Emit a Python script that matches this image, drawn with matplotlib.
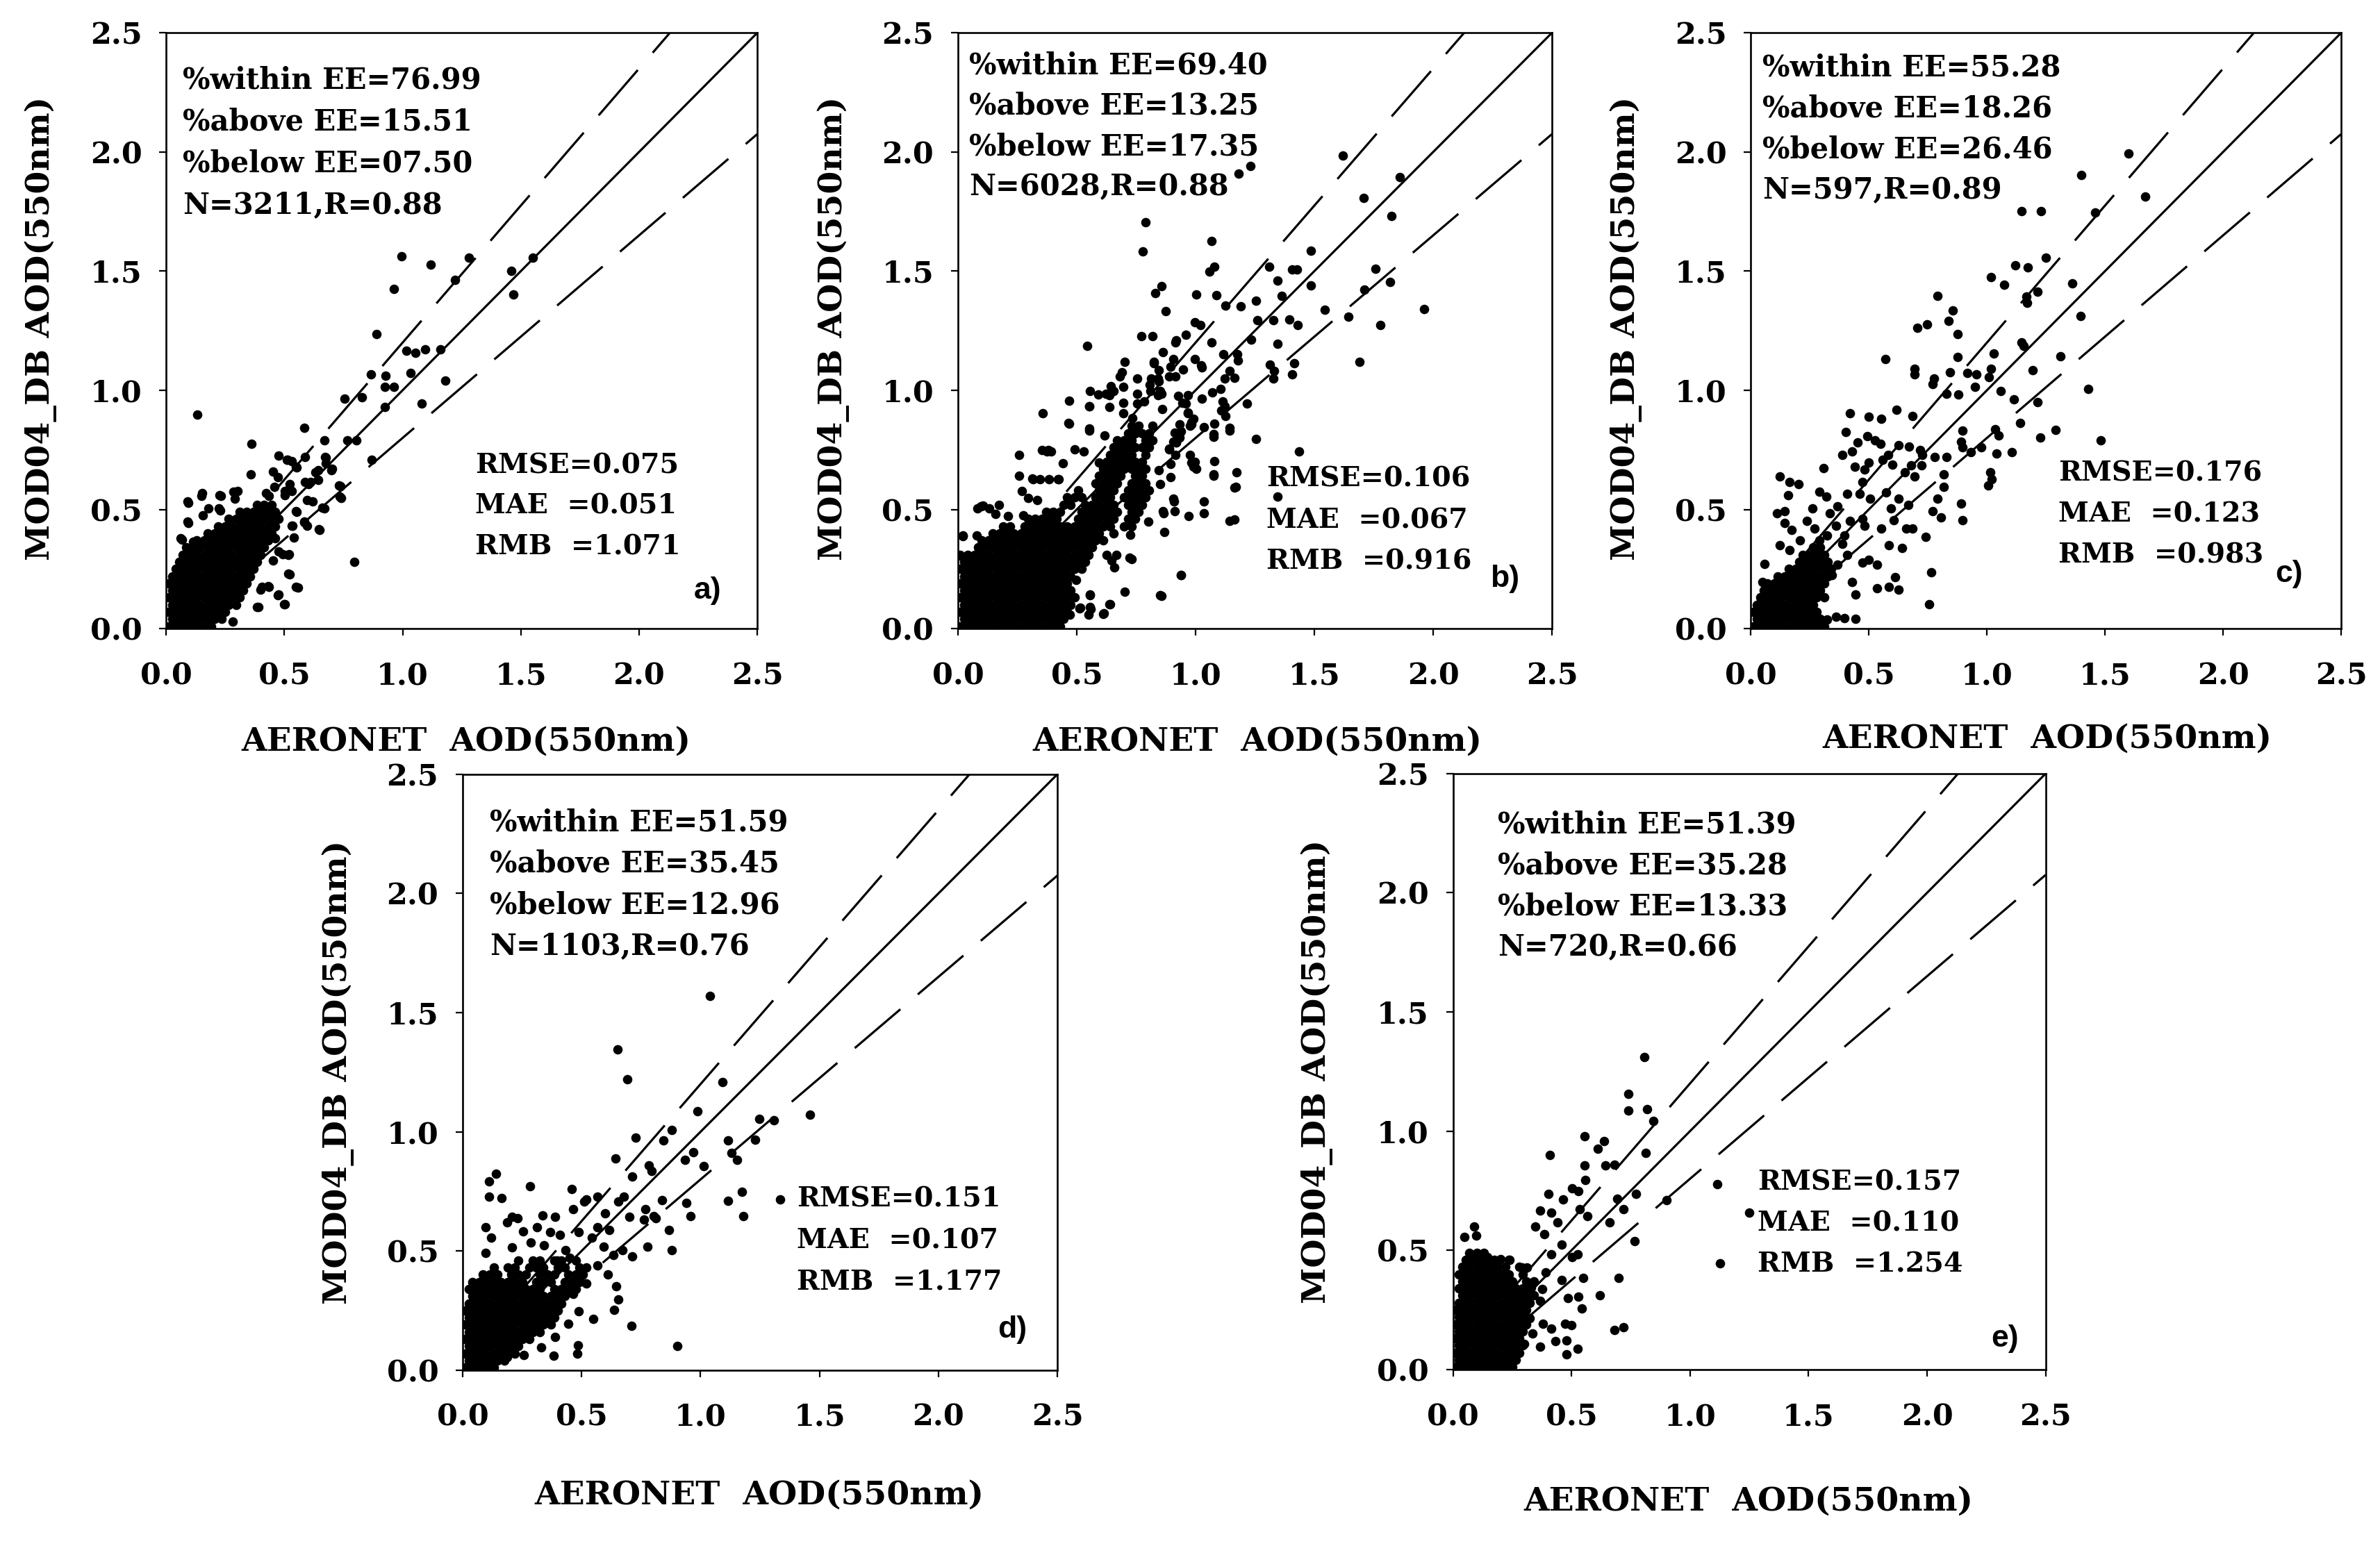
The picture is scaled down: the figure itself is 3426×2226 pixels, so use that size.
import matplotlib
matplotlib.use("Agg")
import matplotlib.pyplot as plt

# ---------------- data ----------------
tick_vals = [0.0, 0.5, 1.0, 1.5, 2.0, 2.5]
tick_labels = ["0.0", "0.5", "1.0", "1.5", "2.0", "2.5"]
EE_ABS, EE_REL = 0.05, 0.15
x_label = "AERONET  AOD(550nm)"
y_label = "MOD04_DB AOD(550nm)"

# dense cores: (y, [x values])
a_blob = [
    (0.01, [.01, .04, .07, .10, .13, .16, .19]),
    (0.04, [.025, .055, .085, .115, .145, .175, .205, .235]),
    (0.07, [.01, .04, .07, .10, .13, .16, .19, .22, .25]),
    (0.10, [.025, .055, .085, .115, .145, .175, .205, .235, .265, .295]),
    (0.13, [.01, .04, .07, .10, .13, .16, .19, .22, .25, .28, .31]),
    (0.16, [.025, .055, .085, .115, .145, .175, .205, .235, .265, .295, .325]),
    (0.19, [.01, .04, .07, .10, .13, .16, .19, .22, .25, .28, .31, .34]),
    (0.22, [.025, .055, .085, .115, .145, .175, .205, .235, .265, .295, .325, .355]),
    (0.25, [.04, .07, .10, .13, .16, .19, .22, .25, .28, .31, .34, .37]),
    (0.28, [.055, .085, .115, .145, .175, .205, .235, .265, .295, .325, .355, .385]),
    (0.31, [.07, .10, .13, .16, .19, .22, .25, .28, .31, .34, .37, .40]),
    (0.34, [.085, .115, .145, .175, .205, .235, .265, .295, .325, .355, .385, .415]),
    (0.37, [.13, .16, .19, .22, .25, .28, .31, .34, .37, .40, .43]),
    (0.40, [.175, .205, .235, .265, .295, .325, .355, .385, .415, .445]),
    (0.43, [.22, .25, .28, .31, .34, .37, .40, .43, .46]),
    (0.46, [.265, .295, .325, .355, .385, .415, .445, .475]),
    (0.49, [.31, .34, .37, .40, .43, .46]),
    (0.52, [.385, .415, .445]),
]
a_pts = [
    (0.995, 1.561), (1.12, 1.526), (1.279, 1.555), (1.55, 1.555), (1.46, 1.5), (1.468, 1.403),
    (1.223, 1.463), (0.963, 1.424), (0.89, 1.237), (1.017, 1.167), (1.055, 1.157), (1.094, 1.173),
    (1.159, 1.173), (1.18, 1.04), (1.034, 1.072), (0.927, 1.062), (0.924, 1.013), (0.963, 1.013),
    (0.924, 0.93), (1.081, 0.945), (0.866, 1.068), (0.755, 0.966), (0.828, 0.97), (0.868, 0.707),
    (0.795, 0.279), (0.131, 0.898), (0.583, 0.842), (0.669, 0.789), (0.765, 0.791), (0.804, 0.791),
    (0.673, 0.719), (0.701, 0.67), (0.361, 0.774), (0.475, 0.725), (0.514, 0.707), (0.55, 0.678),
    (0.587, 0.719), (0.632, 0.657), (0.643, 0.624), (0.602, 0.606), (0.731, 0.602), (0.735, 0.553),
    (0.595, 0.538), (0.548, 0.493), (0.66, 0.507), (0.645, 0.417), (0.583, 0.448), (0.535, 0.431),
    (0.501, 0.559), (0.458, 0.596), (0.357, 0.647), (0.475, 0.323), (0.518, 0.308), (0.55, 0.175),
    (0.518, 0.23), (0.475, 0.144), (0.499, 0.103), (0.432, 0.179), (0.398, 0.164), (0.383, 0.09),
    (0.282, 0.029), (0.46, 0.38), (0.153, 0.569), (0.092, 0.534), (0.09, 0.448), (0.062, 0.378),
    (0.226, 0.561), (0.284, 0.575), (0.29, 0.544), (0.228, 0.497), (0.51, 0.709), (0.531, 0.704),
    (0.553, 0.675), (0.676, 0.718), (0.676, 0.694), (0.644, 0.665), (0.698, 0.665), (0.588, 0.616),
    (0.61, 0.616), (0.453, 0.66), (0.472, 0.636), (0.523, 0.607), (0.531, 0.578), (0.502, 0.578),
    (0.619, 0.534), (0.551, 0.49), (0.585, 0.447), (0.595, 0.432), (0.649, 0.413), (0.737, 0.597),
    (0.741, 0.549), (0.668, 0.505), (0.531, 0.432), (0.541, 0.383), (0.492, 0.311), (0.521, 0.311),
    (0.453, 0.286), (0.523, 0.228), (0.559, 0.172), (0.473, 0.141), (0.502, 0.102), (0.404, 0.175),
    (0.433, 0.175), (0.389, 0.092), (0.15, 0.558), (0.233, 0.556), (0.301, 0.578), (0.179, 0.505),
    (0.223, 0.505), (0.093, 0.529), (0.093, 0.444), (0.154, 0.476), (0.067, 0.374), (0.115, 0.364),
    (0.424, 0.568), (0.433, 0.558),
]

b_blob = [
    (0.01, [.01, .04, .07, .10, .13, .16, .19, .22, .25, .28, .31, .34, .37, .40, .43]),
    (0.04, [.025, .055, .085, .115, .145, .175, .205, .235, .265, .295, .325, .355, .385, .415, .445]),
    (0.07, [.01, .04, .07, .10, .13, .16, .19, .22, .25, .28, .31, .34, .37, .40, .43, .46]),
    (0.10, [.025, .055, .085, .115, .145, .175, .205, .235, .265, .295, .325, .355, .385, .415, .445, .475]),
    (0.13, [.01, .04, .07, .10, .13, .16, .19, .22, .25, .28, .31, .34, .37, .40, .43, .46, .49]),
    (0.16, [.025, .055, .085, .115, .145, .175, .205, .235, .265, .295, .325, .355, .385, .415, .445, .475]),
    (0.19, [.01, .04, .07, .10, .13, .16, .19, .22, .25, .28, .31, .34, .37, .40, .43, .46]),
    (0.22, [.025, .055, .085, .115, .145, .175, .205, .235, .265, .295, .325, .355, .385, .415, .445, .475]),
    (0.25, [.01, .04, .07, .10, .13, .16, .19, .22, .25, .28, .31, .34, .37, .40, .43, .46, .49, .52]),
    (0.28, [.025, .055, .085, .115, .145, .175, .205, .235, .265, .295, .325, .355, .385, .415, .445, .475, .505, .535]),
    (0.31, [.01, .04, .07, .10, .13, .16, .19, .22, .25, .28, .31, .34, .37, .40, .43, .46, .49, .52, .55]),
    (0.34, [.085, .115, .145, .175, .205, .235, .265, .295, .325, .355, .385, .415, .445, .475, .505, .535, .565]),
    (0.37, [.10, .13, .16, .19, .22, .25, .28, .31, .34, .37, .40, .43, .46, .49, .52, .55, .58, .61]),
    (0.40, [.145, .175, .205, .235, .265, .295, .325, .355, .385, .415, .445, .475, .505, .535, .565, .595, .655]),
    (0.43, [.19, .22, .28, .31, .34, .37, .40, .43, .46, .49, .52, .55, .58, .61, .64, .70, .73]),
    (0.46, [.295, .325, .355, .385, .415, .505, .535, .565, .595, .625, .655, .715, .745]),
    (0.49, [.37, .40, .43, .52, .55, .58, .61, .64, .67, .73, .76]),
    (0.52, [.445, .475, .535, .565, .595, .625, .655, .715, .745, .775]),
    (0.55, [.46, .49, .52, .58, .61, .64, .70, .73, .76, .79]),
    (0.58, [.505, .595, .625, .655, .715, .745, .775, .805]),
    (0.61, [.58, .61, .64, .67, .73, .76, .79]),
    (0.64, [.595, .625, .655, .685, .745, .775]),
    (0.67, [.61, .64, .67, .70, .73, .76, .79]),
    (0.70, [.625, .655, .685, .715, .745, .775]),
    (0.73, [.64, .67, .70, .73, .79]),
    (0.76, [.655, .685, .715, .745, .775, .805]),
    (0.79, [.67, .70, .73, .79, .82]),
    (0.82, [.715, .745, .775, .805]),
    (0.85, [.73, .76, .82]),
]
b_pts = [
    (1.62, 1.986), (1.86, 1.894), (1.182, 1.91), (1.23, 1.941), (1.706, 1.808), (1.824, 1.73),
    (0.788, 1.705), (0.777, 1.582), (1.067, 1.627), (1.079, 1.518), (1.058, 1.498), (1.309, 1.518),
    (1.406, 1.506), (1.427, 1.506), (1.485, 1.586), (1.758, 1.51), (1.71, 1.422), (1.818, 1.454),
    (0.856, 1.438), (0.83, 1.407), (1.002, 1.403), (1.088, 1.399), (1.127, 1.356), (1.191, 1.352),
    (1.253, 1.376), (1.345, 1.459), (1.543, 1.339), (1.642, 1.309), (1.779, 1.274), (1.961, 1.341),
    (1.689, 1.12), (1.431, 1.274), (1.395, 1.298), (1.328, 1.294), (1.26, 1.294), (1.363, 1.397),
    (0.543, 1.187), (0.702, 1.12), (0.773, 1.228), (0.82, 1.228), (0.862, 1.161), (0.916, 1.202),
    (0.959, 1.233), (0.998, 1.284), (1.019, 1.274), (1.067, 1.202), (1.116, 1.15), (1.174, 1.15),
    (1.234, 1.212), (1.313, 1.109), (1.345, 1.196), (1.406, 1.068), (1.414, 1.113), (1.328, 1.048),
    (1.217, 0.945), (1.255, 0.795), (1.436, 0.744), (1.144, 0.842), (1.127, 0.892), (1.165, 0.458),
    (1.17, 0.596), (1.034, 0.483), (1.034, 0.534), (1.077, 0.647), (1.345, 0.555), (0.938, 0.226),
    (0.852, 0.14), (0.358, 0.904), (0.68, 1.058), (0.622, 0.986), (0.637, 0.929), (0.734, 0.883),
    (0.809, 0.996), (0.852, 0.996), (0.845, 1.037), (0.916, 1.058), (0.927, 0.976), (0.959, 0.945),
    (0.981, 0.867), (1.071, 0.99), (1.024, 1.105), (1.105, 1.007), (1.165, 1.052), (0.981, 0.698),
    (0.991, 0.678), (0.916, 0.729), (0.933, 0.801), (0.912, 0.822), (1.034, 0.846), (1.077, 0.816),
    (0.863, 0.493), (0.912, 0.493), (0.97, 0.472), (0.906, 0.544), (0.723, 0.298), (0.702, 0.154),
    (0.637, 0.103), (0.612, 0.062), (0.556, 0.144), (0.558, 0.082), (0.513, 0.086), (0.47, 0.058),
    (0.498, 0.205), (0.627, 0.308), (0.659, 0.257), (0.573, 0.38), (0.466, 0.863), (0.552, 0.832),
    (0.594, 0.698), (0.616, 0.811), (0.079, 0.39), (0.02, 0.39), (0.097, 0.514), (0.258, 0.729),
    (0.354, 0.75), (0.38, 0.75), (0.423, 0.627), (0.315, 0.627), (0.133, 0.503), (0.468, 0.859),
    (0.554, 0.932), (0.638, 0.978), (0.695, 0.947), (0.753, 0.985), (0.856, 0.985), (1.026, 0.964),
    (1.124, 0.932), (1.143, 0.83), (1.075, 0.806), (1.077, 0.641), (1.143, 0.453), (1.163, 0.592),
    (0.909, 0.534), (0.865, 0.485), (0.868, 0.405), (0.939, 0.225), (0.856, 0.136), (0.732, 0.293),
    (0.666, 0.308), (0.646, 0.286), (0.557, 0.141), (0.641, 0.102), (0.613, 0.063), (0.549, 0.058),
    (0.515, 0.087), (0.557, 0.09), (0.802, 0.449), (0.724, 0.393), (0.968, 0.908), (0.992, 0.879),
    (0.978, 0.85), (0.934, 0.82), (0.919, 0.782), (0.89, 0.752), (0.987, 0.694), (1.002, 0.67),
    (0.895, 0.636), (0.851, 0.607), (0.373, 0.743), (0.393, 0.743), (0.258, 0.641), (0.313, 0.631),
    (0.344, 0.626), (0.383, 0.626), (0.422, 0.626), (0.27, 0.578), (0.295, 0.549), (0.334, 0.539),
    (0.081, 0.505), (0.105, 0.515), (0.173, 0.519), (0.159, 0.481), (0.212, 0.471), (0.276, 0.476),
    (0.022, 0.388), (0.008, 0.306), (0.554, 0.84), (0.49, 0.752), (0.442, 0.694), (0.529, 0.743),
    (0.873, 1.332), (1.484, 1.44), (0.919, 1.21), (0.825, 1.114), (0.846, 1.085), (0.906, 1.131),
    (0.946, 1.088), (0.997, 1.13), (1.027, 1.096), (1.178, 1.124), (1.144, 1.08), (1.124, 1.05),
    (0.968, 0.98), (0.944, 0.946), (0.982, 0.858), (0.938, 0.827), (0.905, 0.783), (0.888, 1.058),
    (0.895, 1.099), (0.69, 1.076), (0.644, 1.016), (0.555, 0.997), (0.592, 0.983), (0.656, 0.997),
    (0.695, 1.015), (0.753, 1.048), (0.812, 1.048), (0.841, 1.048), (0.826, 1.119), (0.468, 0.957),
    (0.552, 0.933), (1.114, 0.953), (1.109, 0.914), (1.08, 0.86), (1.329, 1.08), (0.919, 0.78),
    (0.89, 0.756), (0.978, 0.728), (0.997, 0.699), (1.08, 0.704), (1.172, 0.655), (0.895, 0.69),
    (0.846, 0.666), (0.695, 0.905), (0.753, 0.944), (0.807, 1.022), (0.783, 0.954), (0.841, 0.98),
    (0.861, 0.922), (0.934, 0.856), (0.968, 0.905),
]

c_blob = [
    (0.01, [.01, .04, .07, .10, .13, .16, .19, .22, .25, .28, .31]),
    (0.04, [.025, .055, .085, .115, .145, .175, .205, .235, .265, .295]),
    (0.07, [.01, .04, .07, .10, .13, .16, .19, .22, .25, .28]),
    (0.10, [.025, .055, .085, .115, .145, .175, .205, .235, .265]),
    (0.13, [.04, .07, .10, .13, .16, .19, .22, .25, .28, .31]),
    (0.16, [.055, .085, .115, .145, .175, .205, .235, .265, .295]),
    (0.19, [.07, .10, .13, .16, .19, .22, .25, .28, .31]),
    (0.22, [.115, .145, .175, .205, .235, .265, .295, .325]),
    (0.25, [.16, .19, .22, .25, .28, .31, .34]),
    (0.28, [.205, .235, .265, .295, .325]),
    (0.31, [.22, .25, .28, .31]),
    (0.34, [.265, .295]),
]
c_pts = [
    (1.6, 1.993), (1.4, 1.904), (1.669, 1.814), (1.146, 1.752), (1.229, 1.752), (1.458, 1.746),
    (1.25, 1.555), (1.119, 1.524), (1.172, 1.516), (1.017, 1.475), (1.072, 1.444), (1.362, 1.448),
    (0.79, 1.397), (1.167, 1.393), (1.214, 1.413), (1.169, 1.366), (0.854, 1.335), (1.398, 1.311),
    (0.706, 1.261), (0.748, 1.278), (0.839, 1.29), (0.875, 1.237), (0.57, 1.13), (0.693, 1.089),
    (0.695, 1.068), (0.775, 1.048), (0.845, 1.076), (0.769, 1.027), (0.875, 1.14), (0.917, 1.072),
    (0.956, 1.068), (0.949, 1.013), (0.828, 0.986), (0.879, 0.982), (1.017, 1.089), (1.03, 1.154),
    (1.008, 1.054), (1.057, 0.996), (1.114, 0.961), (1.146, 1.202), (1.155, 1.187), (1.193, 1.083),
    (1.311, 1.144), (1.43, 1.007), (1.214, 0.951), (1.14, 0.863), (1.225, 0.801), (1.292, 0.834),
    (1.481, 0.791), (1.036, 0.836), (1.049, 0.811), (1.04, 0.735), (1.104, 0.74), (1.013, 0.657),
    (1.019, 0.627), (1.006, 0.6), (0.896, 0.832), (0.896, 0.76), (0.892, 0.785), (0.932, 0.74),
    (0.975, 0.76), (0.828, 0.719), (0.816, 0.647), (0.818, 0.596), (0.79, 0.544), (0.892, 0.524),
    (0.896, 0.456), (0.805, 0.466), (0.769, 0.493), (0.742, 0.386), (0.763, 0.236), (0.754, 0.103),
    (0.667, 0.52), (0.684, 0.421), (0.657, 0.421), (0.642, 0.339), (0.606, 0.456), (0.595, 0.503),
    (0.574, 0.571), (0.625, 0.544), (0.61, 0.216), (0.627, 0.164), (0.585, 0.175), (0.536, 0.168),
    (0.443, 0.144), (0.445, 0.041), (0.398, 0.045), (0.362, 0.051), (0.324, 0.037), (0.303, 0.031),
    (0.5, 0.288), (0.536, 0.267), (0.551, 0.419), (0.585, 0.349), (0.472, 0.277), (0.43, 0.195),
    (0.684, 0.892), (0.617, 0.918), (0.553, 0.879), (0.5, 0.889), (0.419, 0.904), (0.403, 0.826),
    (0.388, 0.729), (0.43, 0.744), (0.451, 0.781), (0.494, 0.807), (0.525, 0.791), (0.549, 0.776),
    (0.583, 0.729), (0.625, 0.77), (0.669, 0.764), (0.718, 0.75), (0.727, 0.729), (0.778, 0.719),
    (0.722, 0.684), (0.68, 0.686), (0.695, 0.637), (0.653, 0.657), (0.6, 0.688), (0.557, 0.709),
    (0.5, 0.698), (0.483, 0.668), (0.441, 0.678), (0.472, 0.616), (0.409, 0.565), (0.462, 0.565),
    (0.504, 0.544), (0.472, 0.462), (0.483, 0.431), (0.419, 0.452), (0.367, 0.514), (0.335, 0.483),
    (0.307, 0.674), (0.292, 0.575), (0.32, 0.555), (0.261, 0.503), (0.239, 0.452), (0.271, 0.421),
    (0.292, 0.37), (0.324, 0.39), (0.123, 0.637), (0.165, 0.616), (0.201, 0.606), (0.159, 0.559),
    (0.112, 0.483), (0.144, 0.493), (0.144, 0.442), (0.123, 0.349), (0.165, 0.329), (0.059, 0.271),
    (0.049, 0.195), (0.172, 0.415), (0.208, 0.37), (0.388, 0.355), (0.398, 0.39), (0.362, 0.431),
    (0.409, 0.308), (0.367, 0.267), (0.345, 0.226),
]

d_blob = [
    (0.01, [.01, .04, .07, .10, .13]),
    (0.04, [.025, .055, .085, .115, .145, .175]),
    (0.07, [.01, .04, .07, .10, .13, .16, .19, .22]),
    (0.10, [.025, .055, .085, .115, .145, .175, .205, .235]),
    (0.13, [.01, .04, .07, .10, .13, .16, .19, .22, .25, .28]),
    (0.16, [.025, .055, .085, .115, .145, .175, .205, .235, .265, .295, .325]),
    (0.19, [.01, .04, .07, .10, .13, .16, .19, .22, .25, .28, .31, .34, .37]),
    (0.22, [.025, .055, .085, .115, .145, .175, .205, .235, .265, .295, .325, .355, .385]),
    (0.25, [.01, .04, .07, .10, .13, .16, .19, .22, .25, .28, .31, .34, .37, .40]),
    (0.28, [.025, .055, .085, .115, .145, .175, .205, .235, .265, .295, .325, .355, .385, .415]),
    (0.31, [.04, .07, .10, .13, .16, .19, .22, .25, .28, .31, .34, .37, .40, .43]),
    (0.34, [.025, .055, .085, .115, .145, .175, .205, .235, .265, .295, .325, .385, .415, .445, .475]),
    (0.37, [.04, .07, .10, .13, .16, .19, .22, .25, .31, .34, .37, .43, .46, .49]),
    (0.40, [.085, .115, .145, .205, .235, .265, .325, .355, .385, .445, .475, .505]),
    (0.43, [.13, .19, .22, .28, .31, .34, .40, .43, .49, .52]),
    (0.46, [.235, .295, .325, .385, .415, .475]),
]
d_pts = [
    (1.04, 1.569), (0.651, 1.344), (0.693, 1.22), (1.091, 1.209), (0.986, 1.085), (1.46, 1.07),
    (1.308, 1.049), (1.248, 1.055), (0.879, 1.006), (0.727, 0.974), (0.843, 0.963), (1.114, 0.963),
    (1.23, 0.967), (1.13, 0.91), (1.152, 0.882), (0.968, 0.914), (0.933, 0.882), (1.013, 0.856),
    (0.642, 0.888), (0.783, 0.86), (0.794, 0.835), (0.711, 0.813), (1.174, 0.749), (1.114, 0.711),
    (1.333, 0.715), (1.18, 0.646), (0.941, 0.7), (0.957, 0.646), (0.839, 0.713), (0.868, 0.589),
    (0.879, 0.503), (0.711, 0.477), (0.776, 0.518), (0.812, 0.638), (0.767, 0.674), (0.901, 0.101),
    (0.709, 0.186), (0.637, 0.253), (0.655, 0.295), (0.644, 0.353), (0.548, 0.214), (0.485, 0.103),
    (0.481, 0.068), (0.382, 0.06), (0.282, 0.771), (0.141, 0.824), (0.11, 0.792), (0.11, 0.728),
    (0.163, 0.723), (0.208, 0.642), (0.231, 0.638), (0.096, 0.599), (0.096, 0.492), (0.119, 0.557),
    (0.335, 0.649), (0.387, 0.642), (0.458, 0.76), (0.465, 0.674), (0.51, 0.706), (0.521, 0.717),
    (0.566, 0.728), (0.599, 0.659), (0.655, 0.706), (0.678, 0.728), (0.7, 0.642), (0.763, 0.631),
    (0.803, 0.646), (0.615, 0.589), (0.566, 0.599), (0.487, 0.578), (0.543, 0.557), (0.593, 0.518),
    (0.633, 0.482), (0.673, 0.503), (0.566, 0.439), (0.61, 0.402), (0.369, 0.578), (0.313, 0.599),
    (0.253, 0.582), (0.186, 0.621), (0.208, 0.514), (0.286, 0.535), (0.342, 0.524), (0.409, 0.567),
    (0.432, 0.503), (0.449, 0.471), (0.398, 0.46), (0.487, 0.407), (0.521, 0.364), (0.465, 0.321),
    (0.487, 0.246), (0.443, 0.193), (0.387, 0.139), (0.331, 0.096), (0.257, 0.064), (0.186, 0.054),
]

e_blob = [
    (0.01, [.01, .04, .07, .10, .13, .16, .19, .22, .25]),
    (0.04, [.025, .055, .085, .115, .145, .175, .205, .235, .265]),
    (0.07, [.01, .04, .07, .10, .13, .16, .19, .22, .25, .28]),
    (0.10, [.025, .055, .085, .115, .145, .175, .205, .235, .265, .295]),
    (0.13, [.01, .04, .07, .10, .13, .16, .19, .22, .25, .28]),
    (0.16, [.025, .055, .085, .115, .145, .175, .205, .235, .265, .295]),
    (0.19, [.01, .04, .07, .10, .13, .16, .19, .22, .25, .28, .31]),
    (0.22, [.025, .055, .085, .115, .145, .175, .205, .235, .265, .295]),
    (0.25, [.01, .04, .07, .10, .13, .16, .19, .22, .25, .28, .31]),
    (0.28, [.025, .055, .085, .115, .145, .175, .205, .235, .265, .295, .325]),
    (0.31, [.04, .07, .10, .13, .16, .19, .22, .25, .28, .31, .34]),
    (0.34, [.025, .055, .085, .115, .145, .175, .205, .235, .265, .295, .325]),
    (0.37, [.04, .07, .10, .13, .16, .19, .22, .25, .31, .34]),
    (0.40, [.025, .055, .085, .115, .145, .175, .205, .235, .295]),
    (0.43, [.04, .07, .10, .13, .16, .19, .22, .28]),
    (0.46, [.055, .085, .115, .145, .175, .235]),
    (0.49, [.07, .10, .13]),
]
e_pts = [
    (0.808, 1.312), (0.741, 1.156), (0.741, 1.085), (0.819, 1.092), (0.846, 1.042), (0.554, 0.978),
    (0.637, 0.957), (0.61, 0.925), (0.812, 0.91), (0.408, 0.899), (0.642, 0.856), (0.682, 0.86),
    (0.554, 0.856), (0.557, 0.796), (0.503, 0.76), (0.53, 0.749), (0.402, 0.738), (0.465, 0.713),
    (0.693, 0.717), (0.772, 0.738), (0.72, 0.674), (0.66, 0.616), (0.534, 0.674), (0.566, 0.642),
    (0.413, 0.659), (0.368, 0.668), (0.44, 0.616), (0.384, 0.567), (0.346, 0.599), (0.767, 0.539),
    (0.902, 0.711), (1.115, 0.777), (1.25, 0.659), (1.127, 0.445), (0.7, 0.385), (0.619, 0.31),
    (0.548, 0.385), (0.503, 0.471), (0.525, 0.482), (0.458, 0.524), (0.413, 0.482), (0.312, 0.428),
    (0.39, 0.407), (0.375, 0.338), (0.458, 0.375), (0.485, 0.3), (0.53, 0.304), (0.543, 0.257),
    (0.474, 0.193), (0.498, 0.186), (0.525, 0.086), (0.48, 0.122), (0.48, 0.064), (0.431, 0.118),
    (0.379, 0.193), (0.413, 0.171), (0.682, 0.165), (0.72, 0.176), (0.368, 0.289), (0.33, 0.342),
    (0.29, 0.428), (0.278, 0.257), (0.323, 0.214), (0.334, 0.15), (0.301, 0.107), (0.368, 0.096),
    (0.088, 0.599), (0.099, 0.561), (0.047, 0.557), (0.144, 0.471), (0.2, 0.464), (0.238, 0.46),
]

stats = {
    "a": ["%within EE=76.99", "%above EE=15.51", "%below EE=07.50", "N=3211,R=0.88"],
    "b": ["%within EE=69.40", "%above EE=13.25", "%below EE=17.35", "N=6028,R=0.88"],
    "c": ["%within EE=55.28", "%above EE=18.26", "%below EE=26.46", "N=597,R=0.89"],
    "d": ["%within EE=51.59", "%above EE=35.45", "%below EE=12.96", "N=1103,R=0.76"],
    "e": ["%within EE=51.39", "%above EE=35.28", "%below EE=13.33", "N=720,R=0.66"],
}
errors = {
    "a": ["RMSE=0.075", "MAE  =0.051", "RMB  =1.071"],
    "b": ["RMSE=0.106", "MAE  =0.067", "RMB  =0.916"],
    "c": ["RMSE=0.176", "MAE  =0.123", "RMB  =0.983"],
    "d": ["RMSE=0.151", "MAE  =0.107", "RMB  =1.177"],
    "e": ["RMSE=0.157", "MAE  =0.110", "RMB  =1.254"],
}
blobs = {"a": a_blob, "b": b_blob, "c": c_blob, "d": d_blob, "e": e_blob}
points = {"a": a_pts, "b": b_pts, "c": c_pts, "d": d_pts, "e": e_pts}

# ---------------- layout (figure fractions / data coords) ----------------
rects = {
    "a": [0.0698, 0.5934, 0.2484, 0.3854],
    "b": [0.4025, 0.5934, 0.2496, 0.3854],
    "c": [0.7356, 0.5934, 0.2481, 0.3854],
    "d": [0.1944, 0.1138, 0.2499, 0.3854],
    "e": [0.6105, 0.1142, 0.2490, 0.3854],
}
stat_pos = {  # x, first-line y, line step (data)
    "a": (0.071, 2.300, 0.174), "b": (0.047, 2.362, 0.170), "c": (0.049, 2.352, 0.171),
    "d": (0.114, 2.297, 0.173), "e": (0.189, 2.286, 0.172),
}
err_pos = {
    "a": (1.307, 0.684, 0.170), "b": (1.298, 0.627, 0.173), "c": (1.303, 0.653, 0.172),
    "d": (1.404, 0.717, 0.173), "e": (1.284, 0.786, 0.172),
}
letter_pos = {"a": (2.289, 0.16), "b": (2.30, 0.21), "c": (2.28, 0.23),
              "d": (2.31, 0.171), "e": (2.327, 0.128)}
xlab_pos = {"a": (0.507, -0.189), "b": (0.504, -0.189), "c": (0.502, -0.185),
            "d": (0.499, -0.21), "e": (0.499, -0.221)}
ylab_pos = {"a": (-0.212, 0.504), "b": (-0.21, 0.504), "c": (-0.211, 0.504),
            "d": (-0.21, 0.5), "e": (-0.23, 0.5)}

SERIF = "DejaVu Serif"
fig = plt.figure(figsize=(34.26, 22.26), dpi=100)
fig.patch.set_facecolor("white")

LW = 2.3
DASH = (0, (27.0, 10.3))
for key in ["a", "b", "c", "d", "e"]:
    ax = fig.add_axes(rects[key])
    ax.set_xlim(0, 2.5)
    ax.set_ylim(0, 2.5)
    # reference lines
    ax.plot([0, 2.5], [0, 2.5], color="black", lw=LW, zorder=2, solid_capstyle="butt")
    up_x = [0.0, 2.5]
    up_y = [EE_ABS + (1 + EE_REL) * v for v in up_x]
    ax.plot(up_x, up_y, color="black", lw=LW, ls=DASH, zorder=2, dash_capstyle="butt")
    lo_x = [EE_ABS / (1 - EE_REL), 2.5]
    lo_y = [(1 - EE_REL) * v - EE_ABS for v in lo_x]
    ax.plot(lo_x, lo_y, color="black", lw=LW, ls=DASH, zorder=2, dash_capstyle="butt")
    # points
    xs, ys = [], []
    for yv, row in blobs[key]:
        for xv in row:
            xs.append(xv)
            ys.append(yv)
    for xv, yv in points[key]:
        xs.append(xv)
        ys.append(yv)
    ax.plot(xs, ys, "o", ms=9.8, color="black", mew=0, zorder=3)

    # ticks / spines
    ax.set_xticks(tick_vals)
    ax.set_yticks(tick_vals)
    ax.set_xticklabels(tick_labels, fontfamily=SERIF, fontweight="bold", fontsize=31)
    ax.set_yticklabels(tick_labels, fontfamily=SERIF, fontweight="bold", fontsize=31)
    ax.tick_params(axis="both", direction="out", length=7, width=1.6, top=False, right=False)
    ax.tick_params(axis="x", pad=27)
    ax.tick_params(axis="y", pad=18)
    for sp in ax.spines.values():
        sp.set_linewidth(1.9)

    # annotations
    sx, sy, step = stat_pos[key]
    for i, line in enumerate(stats[key]):
        ax.text(sx, sy - i * step, line, ha="left", va="center", fontfamily=SERIF,
                fontweight="bold", fontsize=30, zorder=5)
    ex, ey, estep = err_pos[key]
    for i, line in enumerate(errors[key]):
        ax.text(ex, ey - i * estep, line, ha="left", va="center", fontfamily=SERIF,
                fontweight="bold", fontsize=28.5, zorder=5)
    lx, ly = letter_pos[key]
    ax.text(lx, ly, key + ")", ha="center", va="center", fontfamily="Liberation Sans",
            fontweight="bold", fontsize=32, zorder=5)
    ax.text(xlab_pos[key][0], xlab_pos[key][1], x_label, transform=ax.transAxes,
            ha="center", va="center", fontfamily=SERIF, fontweight="bold", fontsize=34)
    ax.text(ylab_pos[key][0], ylab_pos[key][1], y_label, transform=ax.transAxes,
            ha="center", va="center", rotation=90, fontfamily=SERIF, fontweight="bold",
            fontsize=34)

fig.savefig("out.png", dpi=100, facecolor="white")
